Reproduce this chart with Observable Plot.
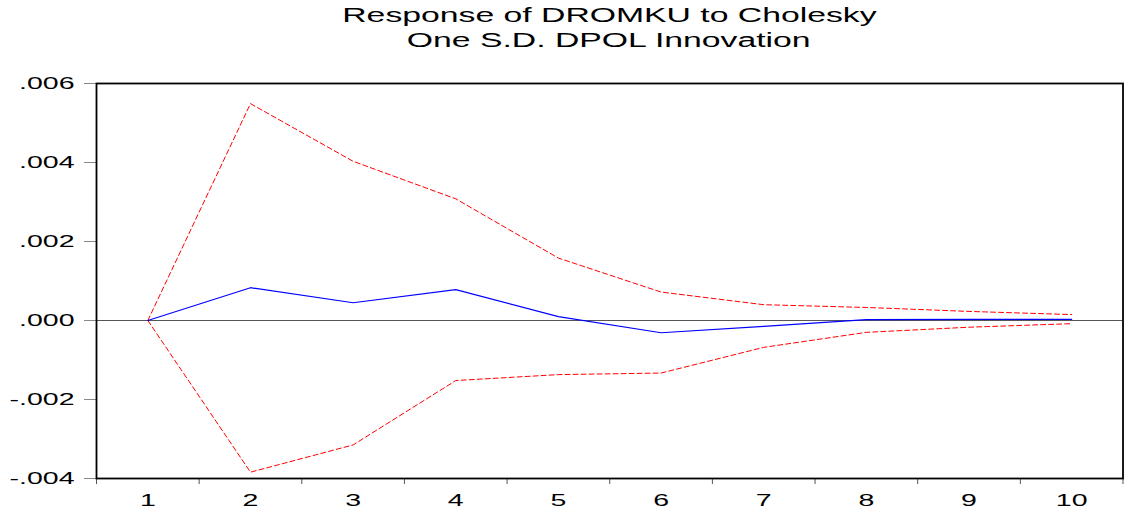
<!DOCTYPE html>
<html>
<head>
<meta charset="utf-8">
<script src="https://cdn.jsdelivr.net/npm/d3@7"></script>
<script src="https://cdn.jsdelivr.net/npm/@observablehq/plot@0.6"></script>
<style>
  html, body { margin: 0; padding: 0; background: #fff; }
  #wrap { width: 1128px; height: 514px; overflow: hidden; position: relative; }
  #title { position: relative; margin-left: 96px; width: 1026px; height: 58px; text-align: center;
           font-family: "Liberation Sans", Arial, sans-serif; font-size: 19.5px; line-height: 25px;
           padding-top: 2.5px; box-sizing: border-box; color: #000; }
  #title span { display: inline-block; transform: scaleX(1.73); transform-origin: 50% 50%; white-space: nowrap; }
  svg { display: block; }
</style>
</head>
<body>
<div id="wrap">
  <div id="title"><span>Response of DROMKU to Cholesky</span><br><span>One S.D. DPOL Innovation</span></div>
  <div id="chart"></div>
</div>
<script>
const periods = [1, 2, 3, 4, 5, 6, 7, 8, 9, 10];
const response = [0, 0.00083, 0.00045, 0.00078, 0.00010, -0.00031, -0.00015, 0.00002, 0.00003, 0.00003];
const upperBand = [0, 0.00549, 0.00403, 0.00308, 0.00158, 0.00072, 0.00040, 0.00033, 0.00023, 0.00015];
const lowerBand = [0, -0.00384, -0.00315, -0.00152, -0.00137, -0.00133, -0.00068, -0.00030, -0.00017, -0.00008];
const yTicks = [-0.004, -0.002, 0, 0.002, 0.004, 0.006];

const rows = periods.map((p, i) => ({p, resp: response[i], up: upperBand[i], lo: lowerBand[i]}));
const boundaries = [...periods.map(p => p - 0.5), periods[periods.length - 1] + 0.5];
const fmt = v => {
  const s = d3.format(".3f")(v).replace("\u2212", "-");
  return s.replace(/^(-?)0\./, "$1.");
};

const chart = Plot.plot({
  width: 1128,
  height: 456,
  marginTop: 25,
  marginBottom: 36,
  marginLeft: 96,
  marginRight: 5.5,
  style: {fontFamily: "'Liberation Sans', Arial, sans-serif", fontSize: "16.3px", color: "#000", background: "#fff"},
  x: {domain: [periods[0] - 0.5, periods[periods.length - 1] + 0.5]},
  y: {domain: [yTicks[0], yTicks[yTicks.length - 1]]},
  marks: [
    Plot.axisY({ticks: yTicks, tickFormat: fmt, tickSize: 12, tickPadding: 10, stroke: "#888", label: null}),
    Plot.axisX({ticks: periods, tickFormat: d => String(d), tickSize: 0, tickPadding: 16, label: null}),
    Plot.axisX({ticks: boundaries, tickFormat: () => "", tickSize: 6, stroke: "#555", label: null}),
    Plot.ruleY([0], {stroke: "#555", strokeWidth: 1.2}),
    Plot.line(rows, {x: "p", y: "up", stroke: "#ff0000", strokeWidth: 1, strokeDasharray: "5,3"}),
    Plot.line(rows, {x: "p", y: "lo", stroke: "#ff0000", strokeWidth: 1, strokeDasharray: "5,3"}),
    Plot.line(rows, {x: "p", y: "resp", stroke: "#0000ff", strokeWidth: 1.2}),
    Plot.frame({stroke: "#000", strokeWidth: 1.8})
  ]
});

// stretch tick labels horizontally, as in the source rendering
chart.querySelectorAll('g[aria-label$="tick label"] text').forEach(t => {
  const tr = t.getAttribute("transform");
  if (tr) t.setAttribute("transform", `${tr} scale(1.75,1)`);
});

document.getElementById("chart").appendChild(chart);
</script>
</body>
</html>
